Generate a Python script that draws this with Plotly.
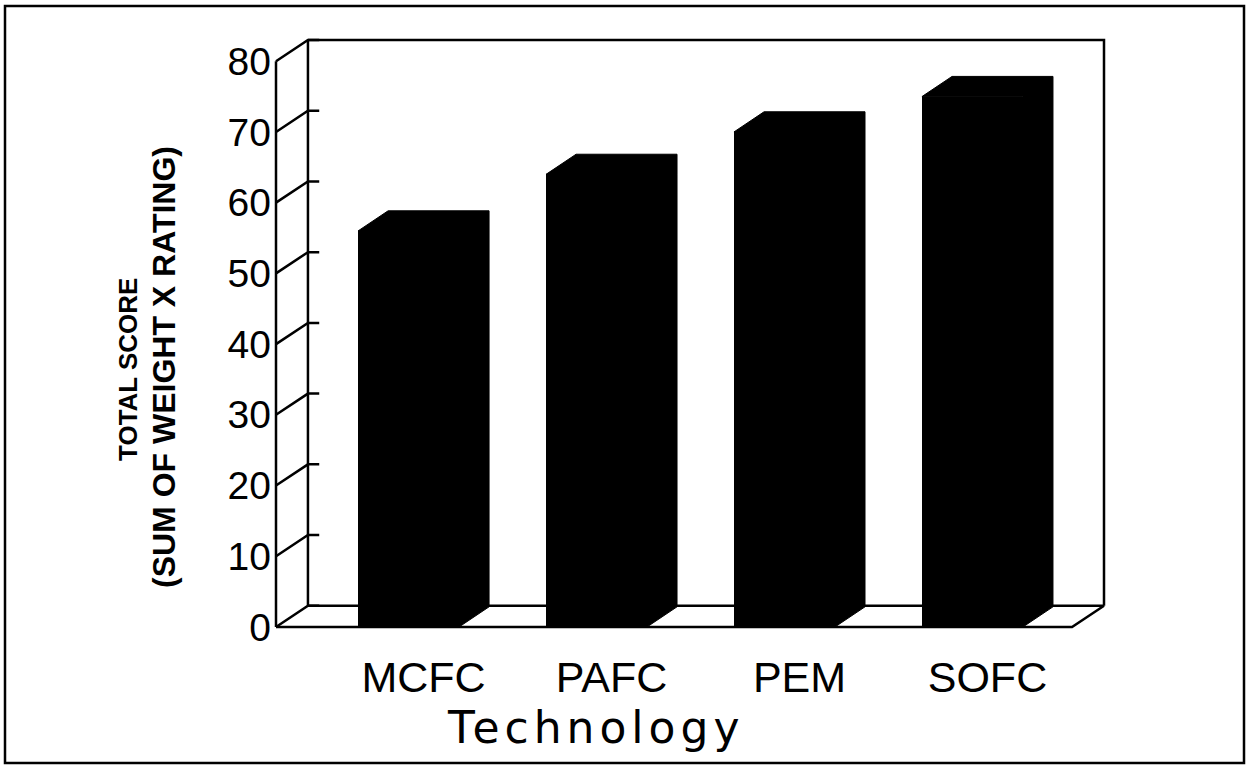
import plotly.graph_objects as go

# Data
technologies = ["MCFC", "PAFC", "PEM", "SOFC"]
total_scores = [56, 64, 70, 75]
y_ticks = [0, 10, 20, 30, 40, 50, 60, 70, 80]

# Geometry of the pseudo-3D box (data units)
BAR_W = 0.537
BAR_DX, BAR_DY = 0.16, 2.85
WALL_DX, WALL_DY = 0.17, 3.0
X_LO, X_HI = -0.705, 3.70
Y_TOP = 80

# Page layout (pixels)
W, H = 1247, 765
PX_PER_X = 188.0
PX_PER_Y = 7.07
PAD = 4
ML, MR = 276 - PAD, W - 1104 - PAD
MT, MB = 40 - PAD, H - 627 - PAD
PLOT_W = W - ML - MR
PLOT_H = H - MT - MB

FONT = "Liberation Sans, Arial, Helvetica, sans-serif"
WIDE_FONT = "DejaVu Sans, Verdana, sans-serif"

fig = go.Figure()


def seg(x, y, width=2.5):
    fig.add_trace(go.Scatter(
        x=x, y=y, mode="lines",
        line=dict(color="black", width=width),
        hoverinfo="skip", showlegend=False,
    ))


# Back wall, floor and front axis
bx = X_LO + WALL_DX
seg([X_LO, X_LO], [0, Y_TOP])
seg([bx, bx], [WALL_DY, Y_TOP + WALL_DY])
seg([bx, X_HI, X_HI], [Y_TOP + WALL_DY, Y_TOP + WALL_DY, WALL_DY])
seg([bx, X_HI], [WALL_DY, WALL_DY])
seg([X_LO, X_HI - WALL_DX, X_HI], [0, 0, WALL_DY])

# Slanted tick marks from the front axis to the back wall
for v in y_ticks:
    seg([X_LO, bx, bx + 0.06], [v, v + WALL_DY, v + WALL_DY])

# Bars: front face
xs = list(range(len(technologies)))
fig.add_trace(go.Bar(
    x=xs, y=total_scores, width=BAR_W,
    marker=dict(color="black", line=dict(width=0)),
    hoverinfo="skip", showlegend=False,
))

# Bars: top and side faces
for x, v in zip(xs, total_scores):
    xl, xr = x - BAR_W / 2, x + BAR_W / 2
    px = [xl, xl + BAR_DX, xr + BAR_DX, xr + BAR_DX, xr, xr, xl]
    py = [v, v + BAR_DY, v + BAR_DY, BAR_DY, 0, v, v]
    fig.add_trace(go.Scatter(
        x=px, y=py, mode="lines", fill="toself",
        fillcolor="black", line=dict(color="black", width=1),
        hoverinfo="skip", showlegend=False,
    ))

pad_x = PAD / PX_PER_X
pad_y = PAD / PX_PER_Y


def paper_x(p):
    return (p - ML) / PLOT_W


def paper_y(p):
    return (H - MB - p) / PLOT_H


fig.update_layout(
    width=W, height=H,
    margin=dict(l=ML, r=MR, t=MT, b=MB, pad=0),
    paper_bgcolor="white", plot_bgcolor="white",
    bargap=0,
    font=dict(family=FONT, color="black"),
    xaxis=dict(
        range=[X_LO - pad_x, X_HI + pad_x],
        showgrid=False, zeroline=False, showline=False,
        tickvals=[x + BAR_DX / 2 for x in xs], ticktext=technologies,
        ticks="", tickfont=dict(size=43, family=FONT),
        ticklabelstandoff=17,
    ),
    yaxis=dict(
        range=[-pad_y, Y_TOP + WALL_DY + pad_y],
        showgrid=False, zeroline=False, showline=False,
        tickvals=y_ticks, ticks="",
        tickfont=dict(size=39, family=FONT),
    ),
    annotations=[
        dict(text='<span style="letter-spacing:5px">Technology</span>',
             xref="paper", yref="paper",
             x=paper_x(595), y=paper_y(727), xanchor="center", yanchor="middle",
             showarrow=False, font=dict(size=44, family=WIDE_FONT)),
        dict(text="<b>TOTAL SCORE</b>",
             xref="paper", yref="paper", textangle=-90,
             x=paper_x(128), y=paper_y(370), xanchor="center", yanchor="middle",
             showarrow=False, font=dict(size=26, family=FONT)),
        dict(text="<b>(SUM OF WEIGHT X RATING)</b>",
             xref="paper", yref="paper", textangle=-90,
             x=paper_x(164), y=paper_y(367), xanchor="center", yanchor="middle",
             showarrow=False, font=dict(size=32, family=FONT)),
    ],
    shapes=[
        dict(type="rect", xref="paper", yref="paper",
             x0=paper_x(5), x1=paper_x(1244), y0=paper_y(763), y1=paper_y(6),
             line=dict(color="black", width=2.5), layer="below"),
    ],
)

fig.write_html("out.html")
